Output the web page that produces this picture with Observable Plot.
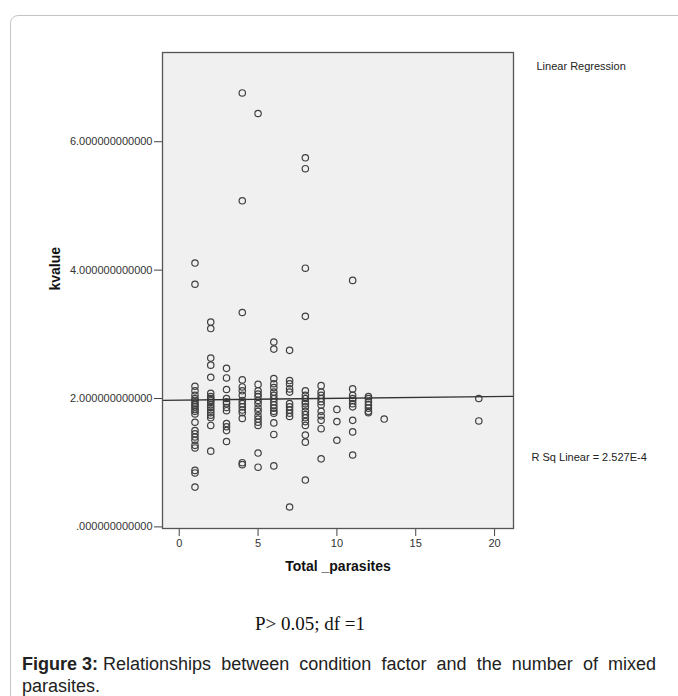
<!DOCTYPE html>
<html>
<head>
<meta charset="utf-8">
<script src="https://cdn.jsdelivr.net/npm/d3@7"></script>
<script src="https://cdn.jsdelivr.net/npm/@observablehq/plot@0.6"></script>
<style>
  html, body { margin: 0; padding: 0; background: #fff; width: 678px; height: 696px; overflow: hidden; }
  #box { position: absolute; left: 10px; top: 15px; width: 720px; height: 720px; border: 1px solid #c4c4c4; border-radius: 8px; }
  #chart { position: absolute; left: 0; top: 0; }
  #pnote { position: absolute; left: 0; width: 620px; top: 613px; text-align: center; font-family: "Liberation Serif", "Times New Roman", serif; font-size: 19px; color: #111; }
  .cap { position: absolute; left: 22px; width: 634px; font-family: "Liberation Sans", Arial, sans-serif; font-size: 18px; line-height: 21px; color: #222; white-space: nowrap; }
  #cap1 { top: 654px; display: flex; }
  #cap1 .lead { font-weight: bold; margin-right: 5px; }
  #cap1 .rest { flex: 1; text-align: justify; text-align-last: justify; }
  #cap2 { top: 676px; }
</style>
</head>
<body>
<div id="box"></div>
<div id="chart"></div>
<div id="pnote">P&gt; 0.05; df =1</div>
<div id="cap1" class="cap"><span class="lead">Figure 3:</span><span class="rest">Relationships between condition factor and the number of mixed</span></div>
<div id="cap2" class="cap">parasites.</div>
<script>
// Total parasites (x) and k value (y)
const parasites = [
  1,1,1,1,1,1,1,1,1,1,1,1,1,1,1,1,1,1,1,1,1,1,1,
  2,2,2,2,2,2,2,2,2,2,2,2,2,2,2,2,2,2,
  3,3,3,3,3,3,3,3,3,3,3,3,
  4,4,4,4,4,4,4,4,4,4,4,4,4,4,4,
  5,5,5,5,5,5,5,5,5,5,5,5,5,5,5,
  6,6,6,6,6,6,6,6,6,6,6,6,6,6,6,6,
  7,7,7,7,7,7,7,7,7,7,7,
  8,8,8,8,8,8,8,8,8,8,8,8,8,8,8,8,8,8,
  9,9,9,9,9,9,9,9,9,9,9,
  10,10,10,
  11,11,11,11,11,11,11,11,11,11,
  12,12,12,12,12,12,12,
  13,
  19,19
];
const kvalue = [
  4.11,3.78,2.19,2.12,2.05,2.0,1.97,1.93,1.9,1.87,1.83,1.8,1.76,1.63,1.50,1.45,1.40,1.35,1.27,1.23,0.88,0.84,0.62,
  3.19,3.09,2.63,2.52,2.33,2.08,2.03,2.0,1.97,1.94,1.9,1.86,1.82,1.78,1.74,1.70,1.58,1.18,
  2.47,2.32,2.14,2.0,1.95,1.92,1.86,1.81,1.61,1.56,1.50,1.33,
  6.76,5.08,3.34,2.29,2.18,2.12,2.05,1.97,1.92,1.87,1.82,1.78,1.69,1.0,0.97,
  6.44,2.22,2.12,2.07,2.03,1.97,1.92,1.85,1.80,1.73,1.68,1.63,1.58,1.15,0.93,
  2.88,2.77,2.31,2.23,2.17,2.10,2.05,2.0,1.95,1.90,1.85,1.80,1.77,1.62,1.44,0.95,
  2.75,2.28,2.23,2.15,2.10,1.92,1.87,1.82,1.77,1.72,0.31,
  5.75,5.58,4.03,3.28,2.12,2.05,2.0,1.95,1.92,1.87,1.80,1.75,1.70,1.64,1.58,1.43,1.32,0.73,
  2.20,2.10,2.05,2.0,1.95,1.90,1.80,1.73,1.66,1.53,1.06,
  1.83,1.64,1.35,
  3.84,2.15,2.05,2.0,1.97,1.92,1.87,1.66,1.48,1.12,
  2.03,2.0,1.95,1.9,1.85,1.80,1.78,
  1.68,
  2.0,1.65
];
const xTicks = [0, 5, 10, 15, 20];
const yTicks = [0, 2, 4, 6];
const xDomain = [-1.06, 21.2];
const yDomain = [-0.025, 7.39];
// fitted line
const fitIntercept = 1.975;
const fitSlope = 0.0028;
const rSqLabel = "R Sq Linear = 2.527E-4";
const legendLabel = "Linear Regression";
const xLabel = "Total _parasites";
const yLabel = "kvalue";

const points = parasites.map((p, i) => ({p, k: kvalue[i]}));
const fit = xDomain.map(x => ({x, y: fitIntercept + fitSlope * x}));
const yFmt = d => d === 0 ? ".000000000000" : d.toFixed(12);

const chart = Plot.plot({
  width: 678,
  height: 600,
  marginLeft: 162,
  marginRight: 165,
  marginTop: 52,
  marginBottom: 72,
  style: {fontFamily: "'Liberation Sans', Arial, sans-serif", fontSize: "11px", color: "#333", background: "transparent"},
  x: {domain: xDomain},
  y: {domain: yDomain},
  marks: [
    Plot.frame({fill: "#f0f0f0", stroke: null}),
    Plot.axisX({ticks: xTicks, tickSize: 8, tickPadding: 3, label: null, fontSize: 11, stroke: "#444"}),
    Plot.axisY({ticks: yTicks, tickSize: 8, tickPadding: 2, tickFormat: yFmt, label: null, fontSize: 11, stroke: "#444"}),
    Plot.dot(points, {x: "p", y: "k", r: 3.2, stroke: "#404040", strokeWidth: 1.2, fill: "none"}),
    Plot.line(fit, {x: "x", y: "y", stroke: "#333", strokeWidth: 1.3}),
    Plot.frame({stroke: "#555", strokeWidth: 1.3}),
    Plot.text([yLabel], {frameAnchor: "left", dx: -107, rotate: -90, fontWeight: "bold", fontSize: 14, fill: "#111"}),
    Plot.text([xLabel], {frameAnchor: "bottom", dy: 42, fontWeight: "bold", fontSize: 14, fill: "#111"}),
    Plot.text([legendLabel], {frameAnchor: "top-right", dx: 23, dy: 10, textAnchor: "start", fontSize: 11, fill: "#222"}),
    Plot.text([rSqLabel], {frameAnchor: "bottom-right", dx: 18, dy: -68, textAnchor: "start", fontSize: 11, fill: "#222"})
  ]
});
document.getElementById("chart").appendChild(chart);
</script>
</body>
</html>
